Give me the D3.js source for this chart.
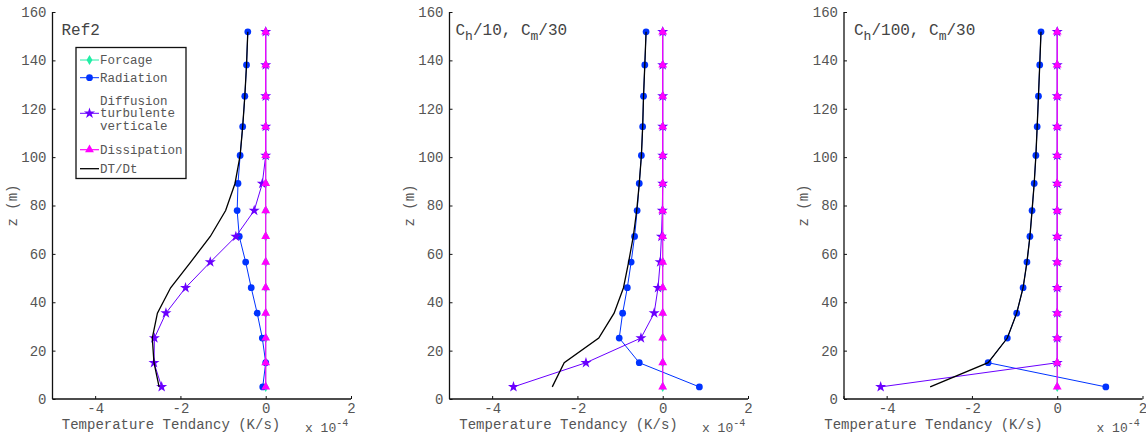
<!DOCTYPE html>
<html>
<head>
<meta charset="utf-8">
<script src="https://cdn.jsdelivr.net/npm/d3@7"></script>
<style>
  body { margin: 0; background: #fff; }
  text { font-family: "Liberation Mono", "DejaVu Sans Mono", monospace; }
</style>
</head>
<body>
<div class="chart"></div>
<script>
// heights of the model levels (m)
var z = [5, 15, 25.2, 35.5, 46, 56.6, 67.2, 77.9, 89.1, 100.7, 112.6, 125.2, 138.1, 151.8];

// tendencies, in units of 1e-4 K/s
var forc1 = [0, 0, 0, 0, 0, 0, 0, 0, 0, 0, 0, 0, 0, 0];
var rad1  = [-0.07, 0, -0.08, -0.2, -0.34, -0.47, -0.62, -0.67, -0.65, -0.6, -0.54, -0.49, -0.45, -0.42];
var dif1  = [-2.44, -2.62, -2.61, -2.34, -1.88, -1.3, -0.7, -0.27, -0.08, 0, 0, 0, 0, 0];
var dis1  = [0, 0, 0, 0, 0, 0, 0, 0, 0, 0, 0, 0, 0, 0];
var dt1   = [-2.5, -2.62, -2.66, -2.54, -2.23, -1.76, -1.3, -0.94, -0.72, -0.6, -0.54, -0.49, -0.45, -0.42];

var forc2 = [0, 0, 0, 0, 0, 0, 0, 0, 0, 0, 0, 0, 0, 0];
var rad2  = [0.86, -0.55, -1.02, -0.94, -0.83, -0.74, -0.66, -0.6, -0.55, -0.5, -0.47, -0.45, -0.42, -0.39];
var dif2  = [-3.5, -1.8, -0.51, -0.2, -0.11, -0.06, -0.03, -0.01, 0, 0, 0, 0, 0, 0];
var dis2  = [0, 0, 0, 0, 0, 0, 0, 0, 0, 0, 0, 0, 0, 0];
var dt2   = [-2.59, -2.31, -1.5, -1.14, -0.92, -0.8, -0.69, -0.61, -0.55, -0.5, -0.47, -0.45, -0.42, -0.39];

var forc3 = [0, 0, 0, 0, 0, 0, 0, 0, 0, 0, 0, 0, 0, 0];
var rad3  = [1.14, -1.62, -1.17, -0.95, -0.8, -0.71, -0.64, -0.59, -0.54, -0.5, -0.47, -0.44, -0.41, -0.38];
var dif3  = [-4.14, 0, 0, 0, 0, 0, 0, 0, 0, 0, 0, 0, 0, 0];
var dis3  = [0, 0, 0, 0, 0, 0, 0, 0, 0, 0, 0, 0, 0, 0];
var dt3   = [-2.98, -1.62, -1.17, -0.95, -0.8, -0.71, -0.64, -0.59, -0.54, -0.5, -0.47, -0.44, -0.41, -0.38];

var xTicks = [-4, -2, 0, 2];
var yTicks = [0, 20, 40, 60, 80, 100, 120, 140, 160];
var seriesNames = ["Forcage", "Radiation", "Diffusion turbulente verticale", "Dissipation", "DT/Dt"];
var xLabel = "Temperature Tendancy (K/s)";
var yLabel = "z (m)";

// title pieces: [text, isSubscript]
var panels = [
  { title: [["Ref2", false]], series: [forc1, rad1, dif1, dis1, dt1], left: 52.5, titleDx: 9, labelCx: 171 },
  { title: [["C", false], ["h", true], ["/10, ", false], ["C", false], ["m", true], ["/30", false]],
    series: [forc2, rad2, dif2, dis2, dt2], left: 449.5, titleDx: 6, labelCx: 568.5 },
  { title: [["C", false], ["h", true], ["/100, ", false], ["C", false], ["m", true], ["/30", false]],
    series: [forc3, rad3, dif3, dis3, dt3], left: 844, titleDx: 10, labelCx: 933.5 }
];

var styles = [
  { color: "#22eea6", symbol: d3.symbolDiamond, size: 30, width: 1 },
  { color: "#0033ff", symbol: d3.symbolCircle, size: 36, width: 1 },
  { color: "#6a00ff", symbol: d3.symbolStar, size: 38, width: 1 },
  { color: "#ff00ff", symbol: d3.symbolTriangle, size: 34, width: 1.2 },
  { color: "#000000", symbol: null, size: 0, width: 1.3 }
];

var W = 1146, H = 436;
var plotTop = 12, plotBottom = 399, pw = 298.5;
var textGray = "#555";

var svg = d3.select(".chart").append("svg")
    .attr("width", W)
    .attr("height", H);

var y = d3.scaleLinear().domain([0, 160]).range([plotBottom, plotTop]);

panels.forEach(function(p, pi) {
  var x = d3.scaleLinear().domain([-5, 2]).range([p.left, p.left + pw]);
  var g = svg.append("g");

  // axes, matlab style ticks pointing inward
  var xAxis = d3.axisBottom(x).tickValues(xTicks).tickSize(-3).tickPadding(4)
      .tickFormat(function(d) { return d < 0 ? "-" + Math.abs(d) : d; });
  var yAxis = d3.axisLeft(y).tickValues(yTicks).tickSize(-3).tickPadding(6);

  var gx = g.append("g").attr("transform", "translate(0," + plotBottom + ")").call(xAxis);
  var gy = g.append("g").attr("transform", "translate(" + p.left + ",0)").call(yAxis);
  gx.select(".domain").attr("d", "M" + p.left + ",0H" + (p.left + pw));
  gy.select(".domain").attr("d", "M0," + plotBottom + "V" + plotTop);
  [gx, gy].forEach(function(a) {
    a.select(".domain").attr("stroke", "#111").attr("stroke-width", 1.3);
    a.selectAll(".tick line").attr("stroke", "#111");
    a.selectAll(".tick text").attr("fill", textGray)
      .style("font-family", "Liberation Mono").style("font-size", "14px");
  });
  // the -5 end has a tick but no label
  gx.append("line").attr("x1", x(-5)).attr("x2", x(-5)).attr("y1", 0).attr("y2", -3).attr("stroke", "#111");

  // axis labels
  g.append("text")
    .attr("x", p.labelCx).attr("y", 429)
    .attr("text-anchor", "middle")
    .attr("fill", textGray)
    .style("font-size", "14px")
    .text(xLabel);

  var mult = g.append("text")
    .attr("x", p.left + pw - 46).attr("y", 432)
    .attr("fill", textGray)
    .style("font-size", "13px");
  mult.append("tspan").text("x 10");
  mult.append("tspan").attr("dy", -6).style("font-size", "10px").text("-4");

  g.append("text")
    .attr("transform", "translate(" + (p.left - 36) + "," + ((plotTop + plotBottom) / 2) + ") rotate(-90)")
    .attr("text-anchor", "middle")
    .attr("fill", textGray)
    .style("font-size", "14px")
    .text(yLabel);

  // panel title
  var t = g.append("text")
    .attr("x", p.left + p.titleDx).attr("y", 35)
    .attr("fill", "#444")
    .style("font-size", "16px");
  var down = false;
  p.title.forEach(function(piece) {
    var sp = t.append("tspan").text(piece[0]);
    if (piece[1] && !down) { sp.attr("dy", 5).style("font-size", "13px"); down = true; }
    else if (!piece[1] && down) { sp.attr("dy", -5); down = false; }
  });

  // data series
  p.series.forEach(function(vals, si) {
    var st = styles[si];
    var pts = vals.map(function(v, i) { return { v: v, z: z[i] }; });
    var line = d3.line()
      .x(function(d) { return x(d.v); })
      .y(function(d) { return y(d.z); });
    g.append("path")
      .datum(pts)
      .attr("d", line)
      .attr("fill", "none")
      .attr("stroke", st.color)
      .attr("stroke-width", st.width);
    if (st.symbol) {
      g.selectAll(".m" + si)
        .data(pts)
        .enter().append("path")
        .attr("class", "m" + si)
        .attr("transform", function(d) { return "translate(" + x(d.v) + "," + y(d.z) + ")"; })
        .attr("d", d3.symbol().type(st.symbol).size(st.size))
        .attr("fill", st.color);
    }
  });

  // legend only on the first panel
  if (pi === 0) {
    var lg = svg.append("g");
    lg.append("rect")
      .attr("x", 76).attr("y", 47.5).attr("width", 110).attr("height", 131)
      .attr("fill", "#fff").attr("stroke", "#111").attr("stroke-width", 1.3);
    var rows = [
      { y: 60, lines: [seriesNames[0]] },
      { y: 77.7, lines: [seriesNames[1]] },
      { y: 113.3, lines: ["Diffusion", "turbulente", "verticale"] },
      { y: 149.7, lines: [seriesNames[3]] },
      { y: 168.7, lines: [seriesNames[4]] }
    ];
    rows.forEach(function(r, i) {
      var st = styles[i];
      lg.append("line")
        .attr("x1", 80).attr("x2", 99).attr("y1", r.y).attr("y2", r.y)
        .attr("stroke", st.color).attr("stroke-width", st.width);
      if (st.symbol) {
        lg.append("path")
          .attr("transform", "translate(89.5," + r.y + ")")
          .attr("d", d3.symbol().type(st.symbol).size(st.size))
          .attr("fill", st.color);
      }
      var n = r.lines.length;
      r.lines.forEach(function(s, k) {
        lg.append("text")
          .attr("x", 100)
          .attr("y", r.y + (k - (n - 1) / 2) * 12.3 + 4)
          .attr("fill", textGray)
          .style("font-size", "12.5px")
          .text(s);
      });
    });
  }
});
</script>
</body>
</html>
